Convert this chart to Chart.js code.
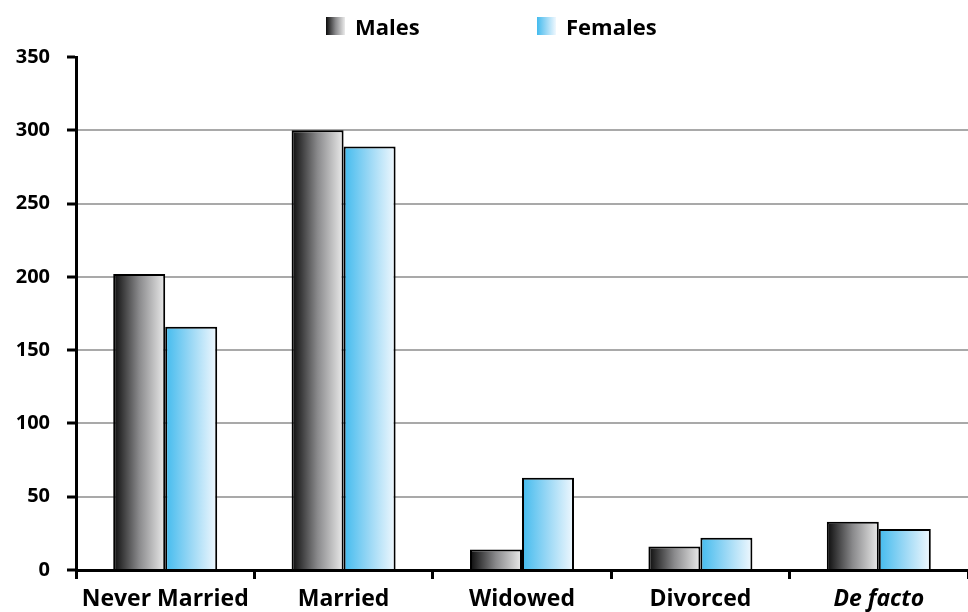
<!DOCTYPE html>
<html>
<head>
<meta charset="utf-8">
<script src="https://cdn.jsdelivr.net/npm/chart.js@4/dist/chart.umd.min.js"></script>
<style>
  html, body { margin: 0; padding: 0; background: #fff; }
  #wrap { position: relative; width: 968px; height: 612px; }
  #c { position: absolute; left: 0; top: 0; }
  #legend { position: absolute; left: 0; top: 0; width: 968px; height: 50px; z-index: 2;
            font-family: 'Open Sans', sans-serif; font-weight: 700; font-size: 22px; color: #000; }
  .item { position: absolute; top: 11px; display: flex; align-items: center; height: 30px; }
  .swatch { width: 19px; height: 18px; margin-right: 10px; }
</style>
</head>
<body>
<div id="wrap">
  <div id="legend"></div>
  <canvas id="c" width="968" height="612"></canvas>
</div>
<script>
// Marital status counts by sex
const categories = ['Never Married', 'Married', 'Widowed', 'Divorced', 'De facto'];
const seriesNames = ['Males', 'Females'];
const males = [202, 300, 14, 16, 33];
const females = [166, 289, 63, 22, 28];
const yTickValues = [0, 50, 100, 150, 200, 250, 300, 350];

// Left-to-right shading for each series
const maleStops = ['#0b0b0b', '#8a8a8c', '#ebebeb'];
const femaleStops = ['#43bbee', '#9bd8f5', '#f0f8fe'];

const CAT_PCT = 0.583;
const FONT = "'Open Sans', sans-serif";

function gradientFill(stops, slot) {
  return (ctx) => {
    const chart = ctx.chart;
    const xs = chart.scales && chart.scales.x;
    if (!xs || !xs.width || ctx.type !== 'data') return stops[1];
    const catW = xs.width / categories.length;
    const barW = catW * CAT_PCT / 2;
    const left = xs.getPixelForValue(ctx.dataIndex) + (slot - 1) * barW;
    const g = chart.ctx.createLinearGradient(left, 0, left + barW, 0);
    stops.forEach((c, i) => g.addColorStop(i / (stops.length - 1), c));
    return g;
  };
}

// HTML legend
const legendEl = document.getElementById('legend');
const legendLeft = [326, 537];
[maleStops, femaleStops].forEach((stops, i) => {
  const item = document.createElement('div');
  item.className = 'item';
  item.style.left = legendLeft[i] + 'px';
  const sw = document.createElement('span');
  sw.className = 'swatch';
  sw.style.background = 'linear-gradient(to right,' + stops.join(',') + ')';
  const tx = document.createElement('span');
  tx.textContent = seriesNames[i];
  item.appendChild(sw);
  item.appendChild(tx);
  legendEl.appendChild(item);
});

new Chart(document.getElementById('c'), {
  type: 'bar',
  data: {
    labels: categories,
    datasets: [
      { label: seriesNames[0], data: males, backgroundColor: gradientFill(maleStops, 0),
        borderColor: '#000', borderWidth: 2, borderSkipped: 'bottom' },
      { label: seriesNames[1], data: females, backgroundColor: gradientFill(femaleStops, 1),
        borderColor: '#000', borderWidth: 2, borderSkipped: 'bottom' }
    ]
  },
  options: {
    responsive: false,
    animation: false,
    devicePixelRatio: 1,
    layout: { padding: { top: 57, left: 0, right: 0, bottom: 0 } },
    plugins: { legend: { display: false }, tooltip: { enabled: false } },
    datasets: { bar: { categoryPercentage: CAT_PCT, barPercentage: 1 } },
    scales: {
      x: {
        afterFit: (s) => { s.height = 42; },
        grid: { display: true, drawOnChartArea: false, drawTicks: true, offset: true,
                tickLength: 9, tickColor: '#000', tickWidth: 3, color: '#000' },
        border: { display: true, color: '#000', width: 3 },
        ticks: {
          color: '#000', padding: 7, maxRotation: 0, autoSkip: false,
          font: (ctx) => ({ family: FONT, size: 23, weight: '700',
                            style: ctx.index === 4 ? 'italic' : 'normal' })
        }
      },
      y: {
        min: 0, max: 350,
        afterFit: (s) => { s.width = 76; },
        afterBuildTicks: (s) => { s.ticks = yTickValues.map(v => ({ value: v })); },
        grid: {
          color: (ctx) => (ctx.tick && ctx.tick.value === 350) ? 'rgba(0,0,0,0)' : '#a9a9a9',
          lineWidth: 2, tickLength: 9, tickColor: '#000', tickWidth: 3, drawTicks: true
        },
        border: { display: true, color: '#000', width: 3 },
        ticks: { color: '#000', padding: 17, font: { family: FONT, size: 20, weight: '700' } }
      }
    }
  }
});
</script>
</body>
</html>
